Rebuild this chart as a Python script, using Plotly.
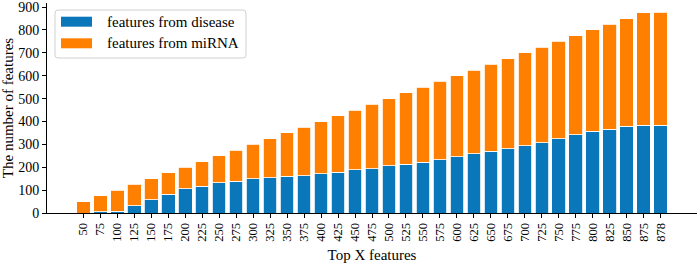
import plotly.graph_objects as go

categories = ["50", "75", "100", "125", "150", "175", "200", "225", "250", "275",
              "300", "325", "350", "375", "400", "425", "450", "475", "500", "525",
              "550", "575", "600", "625", "650", "675", "700", "725", "750", "775",
              "800", "825", "850", "875", "878"]
totals = [50, 75, 100, 125, 150, 175, 200, 225, 250, 275,
          300, 325, 350, 375, 400, 425, 450, 475, 500, 525,
          550, 575, 600, 625, 650, 675, 700, 725, 750, 775,
          800, 825, 850, 875, 878]
disease = [0, 5, 7, 32, 57, 81, 105, 118, 132, 138,
           150, 154, 160, 163, 172, 179, 189, 194, 207, 213,
           221, 233, 245, 258, 269, 280, 294, 307, 325, 342,
           358, 367, 379, 384, 384]
mirna = [t - d for t, d in zip(totals, disease)]
y_ticks = [0, 100, 200, 300, 400, 500, 600, 700, 800, 900]
series_names = ["features from disease", "features from miRNA"]

BLUE = "#0A77BB"
ORANGE = "#FF8000"
FONT = "Liberation Serif"

W, H = 699, 265
ML, MR, MT, MB = 47, 2, 3, 52
PW, PH = W - ML - MR, H - MT - MB


def px_x(x):
    return (x - ML) / PW


def px_y(y):
    return (H - MB - y) / PH


def rounded_box(x0, y0, x1, y1, r):
    # pixel coords -> paper-coord SVG path with rounded corners
    pts = [
        ("M", x0 + r, y0), ("L", x1 - r, y0), ("Q", x1, y0, x1, y0 + r),
        ("L", x1, y1 - r), ("Q", x1, y1, x1 - r, y1), ("L", x0 + r, y1),
        ("Q", x0, y1, x0, y1 - r), ("L", x0, y0 + r), ("Q", x0, y0, x0 + r, y0),
    ]
    parts = []
    for p in pts:
        cmd, coords = p[0], p[1:]
        xy = []
        for k in range(0, len(coords), 2):
            xy.append(f"{px_x(coords[k]):.5f},{px_y(coords[k + 1]):.5f}")
        parts.append(cmd + " ".join(xy))
    return " ".join(parts) + " Z"


fig = go.Figure()
fig.add_trace(go.Bar(x=categories, y=disease, name=series_names[0],
                     marker=dict(color=BLUE, line=dict(color="white", width=0.8))))
fig.add_trace(go.Bar(x=categories, y=mirna, name=series_names[1],
                     marker=dict(color=ORANGE, line=dict(color="white", width=0.8))))

# legend drawn manually (wide matplotlib-style patches)
shapes = [dict(type="path", xref="paper", yref="paper",
               path=rounded_box(55, 10, 246, 58, 3),
               line=dict(color="#d0d0d0", width=1), fillcolor="white", layer="above")]
annotations = []
for i, (name, col) in enumerate(zip(series_names, [BLUE, ORANGE])):
    top = 16.7 + i * 21.6
    shapes.append(dict(type="rect", xref="paper", yref="paper",
                       x0=px_x(61), x1=px_x(92), y0=px_y(top + 10), y1=px_y(top),
                       line=dict(width=0), fillcolor=col, layer="above"))
    annotations.append(dict(xref="paper", yref="paper", x=px_x(105), y=px_y(top + 5),
                            xanchor="left", yanchor="middle", showarrow=False,
                            text=name, font=dict(size=15, family=FONT, color="black")))

fig.update_layout(
    barmode="stack",
    bargap=0.2,
    width=W, height=H,
    margin=dict(l=ML, r=MR, t=MT, b=MB),
    plot_bgcolor="white", paper_bgcolor="white",
    font=dict(family=FONT, color="black"),
    showlegend=False,
    shapes=shapes,
    annotations=annotations,
)
fig.update_xaxes(
    type="category", range=[-2.14, 36.14],
    showline=True, linecolor="black", linewidth=1,
    ticks="outside", ticklen=4, tickwidth=1, tickcolor="black",
    tickangle=-90, tickfont=dict(size=12.5, family=FONT),
    showgrid=False, zeroline=False,
    title=dict(text="Top X features", font=dict(size=15, family=FONT), standoff=8),
    automargin=False,
)
fig.update_yaxes(
    range=[0, 918], tickvals=y_ticks,
    showline=True, linecolor="black", linewidth=1,
    ticks="outside", ticklen=4, tickwidth=1, tickcolor="black",
    tickfont=dict(size=14, family=FONT),
    showgrid=False, zeroline=False,
    title=dict(text="The number of features", font=dict(size=15, family=FONT), standoff=4),
    automargin=False,
)
fig.write_html("out.html", config={"displayModeBar": False},
               post_script="document.body.style.margin='0px';")
